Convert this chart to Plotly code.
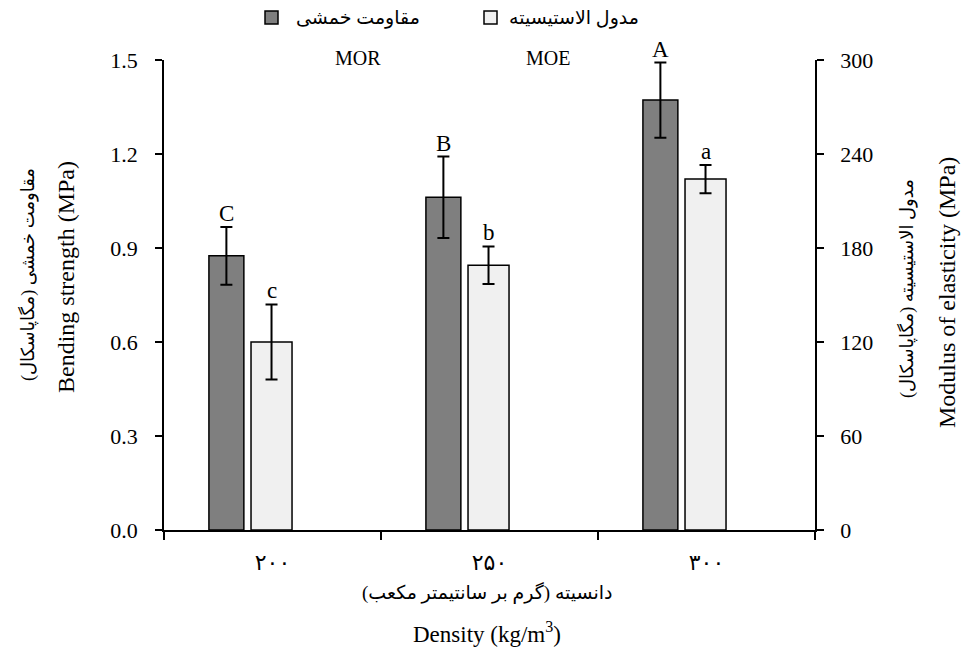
import plotly.graph_objects as go

# Density classes (Persian digits) and measured properties
densities = ["۲۰۰", "۲۵۰", "۳۰۰"]
mor_values = [0.875, 1.062, 1.372]   # bending strength, MPa
mor_errors = [0.092, 0.130, 0.120]
moe_values = [120, 169, 224]         # modulus of elasticity, MPa
moe_errors = [24, 12, 9]
mor_letters = ["C", "B", "A"]
moe_letters = ["c", "b", "a"]

left_ticks = [0.0, 0.3, 0.6, 0.9, 1.2, 1.5]
right_ticks = [0, 60, 120, 180, 240, 300]

SERIF = "Liberation Serif, Times New Roman, DejaVu Serif"
PERSIAN = "Liberation Serif, DejaVu Sans"
DARK = "#7f7f7f"
LIGHT = "#f0f0f0"

fig = go.Figure()

fig.add_trace(go.Bar(
    x=densities, y=mor_values, name="MOR",
    offset=-0.293, width=0.161,
    marker=dict(color=DARK, line=dict(color="black", width=1.5)),
    error_y=dict(type="data", array=mor_errors, color="black", thickness=2, width=6),
    yaxis="y", showlegend=False,
))
fig.add_trace(go.Bar(
    x=densities, y=moe_values, name="MOE",
    offset=-0.099, width=0.189,
    marker=dict(color=LIGHT, line=dict(color="black", width=1.5)),
    error_y=dict(type="data", array=moe_errors, color="black", thickness=2, width=6),
    yaxis="y2", showlegend=False,
))

annotations = []
# significance letters above the error bars
for i in range(len(densities)):
    annotations.append(dict(
        x=i - 0.293 + 0.161 / 2, y=mor_values[i] + mor_errors[i], xref="x", yref="y",
        text=mor_letters[i], showarrow=False, yanchor="bottom", yshift=-1,
        font=dict(family=SERIF, size=23, color="black")))
    annotations.append(dict(
        x=i - 0.099 + 0.189 / 2, y=moe_values[i] + moe_errors[i], xref="x", yref="y2",
        text=moe_letters[i], showarrow=False, yanchor="bottom", yshift=-1,
        font=dict(family=SERIF, size=23, color="black")))

PL, PR, PT, PB = 164, 815, 60, 530


def px(xp):
    return (xp - PL) / (PR - PL)


def py(yp):
    return (PB - yp) / (PB - PT)


def text(xp, yp, s, size, family, angle=0):
    annotations.append(dict(
        x=px(xp), y=py(yp), xref="paper", yref="paper", text=s, showarrow=False,
        xanchor="center", yanchor="middle", textangle=angle,
        font=dict(family=family, size=size, color="black")))


# axis titles
text(28, 275, "مقاومت خمشی (مگاپاسکال)", 18, PERSIAN, -90)
text(66, 277, "Bending strength (MPa)", 24, SERIF, -90)
text(907, 288, "مدول الاستیسیته (مگاپاسکال)", 18, PERSIAN, -90)
text(947, 293, "Modulus of elasticity (MPa)", 24, SERIF, -90)
text(487, 592, "دانسیته (گرم بر سانتیمتر مکعب)", 19, PERSIAN)
text(487, 632, "Density (kg/m<sup>3</sup>)", 23, SERIF)

# legend
text(358, 18, "مقاومت خمشی", 19, PERSIAN)
text(358, 58, "MOR", 20, SERIF)
text(574, 18, "مدول الاستیسیته", 19, PERSIAN)
text(548, 58, "MOE", 20, SERIF)

shapes = []
for (x0, col) in [(265, DARK), (484, LIGHT)]:
    shapes.append(dict(type="rect", xref="paper", yref="paper",
                       x0=px(x0), x1=px(x0 + 13), y0=py(24), y1=py(11),
                       fillcolor=col, line=dict(color="black", width=1.5)))

fig.update_layout(
    width=963, height=648,
    margin=dict(l=PL, r=963 - PR, t=PT, b=648 - PB),
    paper_bgcolor="white", plot_bgcolor="white",
    barmode="overlay",
    annotations=annotations, shapes=shapes,
    xaxis=dict(
        type="category", tickson="boundaries", ticks="outside", ticklen=8,
        tickwidth=1.5, tickcolor="black", showline=True, linecolor="black",
        linewidth=1.5, showgrid=False, range=[-0.5, 2.5],
        tickfont=dict(family=PERSIAN, size=22, color="black"),
        ticklabelstandoff=12,
    ),
    yaxis=dict(
        range=[0, 1.5], tickvals=left_ticks,
        ticktext=[f"{v:.1f}" for v in left_ticks],
        ticks="outside", ticklen=7, tickwidth=1.5, tickcolor="black",
        showline=True, linecolor="black", linewidth=1.5, showgrid=False,
        zeroline=False, tickfont=dict(family=SERIF, size=22, color="black"),
        ticklabelstandoff=13,
    ),
    yaxis2=dict(
        range=[0, 300], tickvals=right_ticks, overlaying="y", side="right",
        ticks="outside", ticklen=7, tickwidth=1.5, tickcolor="black",
        showline=True, linecolor="black", linewidth=1.5, showgrid=False,
        zeroline=False, tickfont=dict(family=SERIF, size=22, color="black"),
        ticklabelstandoff=12,
    ),
)

fig.write_html("out.html")
